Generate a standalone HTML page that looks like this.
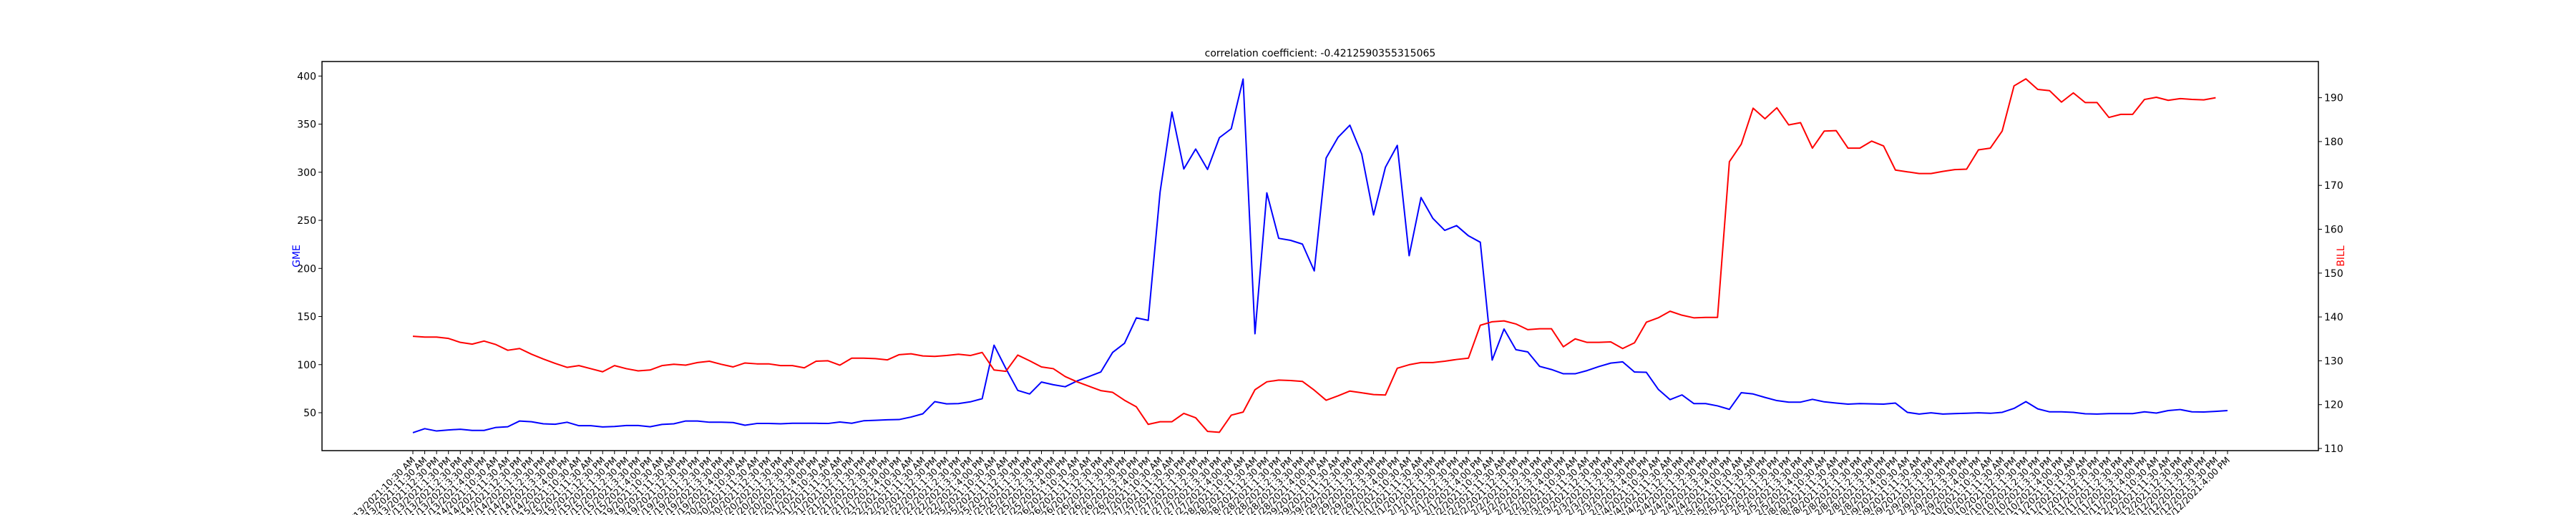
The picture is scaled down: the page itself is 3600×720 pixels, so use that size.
<!DOCTYPE html>
<html><head><meta charset="utf-8"><style>
html,body{margin:0;padding:0;background:#fff;}
svg{display:block;font-family:"DejaVu Sans","Liberation Sans",sans-serif;}
</style></head><body>
<svg id="chart" width="3600" height="720" viewBox="0 0 3600 720" xmlns="http://www.w3.org/2000/svg">
<rect width="3600" height="720" fill="#fff"/>
<text x="1845" y="79" font-size="14" text-anchor="middle" fill="#000">correlation coefficient: -0.4212590355315065</text>
<text x="0" y="0" font-size="14" fill="#0000ff" text-anchor="middle" transform="translate(419,358) rotate(-90)">GME</text>
<text x="0" y="0" font-size="14" fill="#ff0000" text-anchor="middle" transform="translate(3276,358) rotate(-90)">BILL</text>
<g id="series"></g>
<g id="axes"></g>
</svg>
<script>
const days = ["1/13","1/14","1/15","1/19","1/20","1/21","1/22","1/25","1/26","1/27","1/28","1/29","2/1","2/2","2/3","2/4","2/5","2/8","2/9","2/10","2/11","2/12"];
const times = ["10:30 AM","11:30 AM","12:30 PM","1:30 PM","2:30 PM","3:30 PM","4:00 PM"];
const gmeValues = [29.2,33.4,31.0,32.1,32.8,31.6,31.6,34.7,35.4,41.4,40.6,38.5,38.0,40.1,36.5,36.5,35.2,35.7,36.7,36.7,35.4,37.8,38.5,41.4,41.4,40.1,40.1,39.8,37.0,38.8,
38.8,38.5,39.0,39.0,39.0,38.8,40.3,39.0,41.6,42.1,42.7,42.9,45.5,48.9,61.5,59.2,59.5,61.3,64.6,120.2,95.9,73.2,69.5,81.9,79.1,77.0,83.0,87.6,92.3,112.7,
122.2,148.6,146.0,279.4,362.6,303.4,324.1,302.9,335.9,345.2,396.9,132.1,278.6,231.3,229.2,225.3,197.4,314.8,336.2,348.9,318.9,255.6,305.2,327.9,213.2,273.7,252.0,239.6,244.5,233.9,
227.2,104.7,137.0,115.5,113.2,98.2,94.9,90.5,90.5,93.8,98.0,101.6,102.9,92.3,92.0,74.4,63.6,68.5,59.5,59.5,57.1,53.5,70.8,69.5,65.9,62.6,61.0,61.0,63.9,61.3,
60.0,58.9,59.5,59.2,58.9,60.0,50.4,48.6,49.9,48.6,49.1,49.4,49.9,49.4,50.4,54.5,61.5,54.0,50.9,50.9,50.4,48.9,48.6,49.1,49.1,49.1,50.9,49.6,52.2,53.3,
50.9,50.7,51.4,52.2];
const billValues = [135.6,135.4,135.4,135.1,134.2,133.8,134.5,133.7,132.4,132.8,131.5,130.4,129.4,128.5,128.9,128.2,127.5,128.9,128.2,127.7,127.9,128.9,129.2,129.0,129.6,129.9,129.2,128.6,129.5,129.3,
129.3,128.9,128.9,128.4,129.9,130.0,129.0,130.6,130.6,130.5,130.2,131.4,131.6,131.1,131.0,131.2,131.5,131.2,131.9,127.9,127.6,131.3,130.0,128.6,128.2,126.4,125.2,124.2,123.2,
122.8,121.0,119.5,115.5,116.1,116.1,118.0,117.0,113.9,113.7,117.6,118.3,123.4,125.2,125.6,125.5,125.3,123.3,121.0,122.0,123.1,122.7,122.3,122.2,128.3,129.1,129.6,129.6,129.9,130.3,
130.6,138.1,138.9,139.1,138.4,137.1,137.3,137.3,133.2,135.0,134.2,134.2,134.3,132.8,134.1,138.8,139.8,141.3,140.4,139.8,139.9,139.9,175.4,179.4,187.6,185.2,187.7,183.8,184.3,178.5,182.4,
182.5,178.5,178.5,180.1,179.0,173.5,173.1,172.7,172.7,173.2,173.6,173.7,178.1,178.5,182.4,192.7,194.3,191.9,191.6,189.0,191.1,188.9,188.9,185.5,186.2,186.2,189.6,190.1,189.4,189.8,
189.6,189.5,190.0];
const leftTicks = [50,100,150,200,250,300,350,400];
const rightTicks = [110,120,130,140,150,160,170,180,190];

const NS = "http://www.w3.org/2000/svg";
const plotL = 450, plotR = 3240, plotT = 86, plotB = 630;
const x0 = 577, x1 = 3113;
const labels = [];
days.forEach(d => times.forEach(t => labels.push(d + "/2021:" + t)));
const n = gmeValues.length;
function xPos(i){ return x0 + (x1 - x0) * i / (n - 1); }
function yLeft(v){ return 577 - (v - 50) * (577 - 106.3) / 350; }
function yRight(v){ return 627 - (v - 110) * 6.13; }

function mk(tag, attrs, parent){
  const el = document.createElementNS(NS, tag);
  for (const k in attrs) el.setAttribute(k, attrs[k]);
  parent.appendChild(el);
  return el;
}
const series = document.getElementById("series");
const axes = document.getElementById("axes");

function drawLine(vals, yf, color, name){
  let d = "";
  vals.forEach((v, i) => { d += (i ? "L" : "M") + xPos(i).toFixed(2) + "," + yf(v).toFixed(2); });
  const p = mk("path", {d: d, fill: "none", stroke: color, "stroke-width": 2, "stroke-linejoin": "round"}, series);
  
  
}
drawLine(gmeValues, yLeft, "#0000ff", "gme-line");
drawLine(billValues, yRight, "#ff0000", "bill-line");

const frame = mk("rect", {x: plotL, y: plotT, width: plotR - plotL, height: plotB - plotT, fill: "none", stroke: "#000", "stroke-width": 1.5}, axes);



leftTicks.forEach(v => {
  const y = yLeft(v);
  const tk = mk("line", {x1: plotL - 5, x2: plotL, y1: y, y2: y, stroke: "#000", "stroke-width": 1}, axes);
  
  
  const t = mk("text", {x: plotL - 8, y: y + 5, "font-size": 14, "text-anchor": "end", fill: "#000"}, axes);
  t.textContent = v;
  
  
});
rightTicks.forEach(v => {
  const y = yRight(v);
  const tk = mk("line", {x1: plotR, x2: plotR + 5, y1: y, y2: y, stroke: "#000", "stroke-width": 1}, axes);
  
  
  const t = mk("text", {x: plotR + 8, y: y + 5, "font-size": 14, "text-anchor": "start", fill: "#000"}, axes);
  t.textContent = v;
  
  
});
labels.forEach((lab, i) => {
  const x = xPos(i);
  const tk = mk("line", {x1: x, x2: x, y1: plotB, y2: plotB + 5, stroke: "#000", "stroke-width": 1}, axes);
  
  
  const t = mk("text", {x: x + 4, y: plotB + 14, "font-size": 12.5, "text-anchor": "end", fill: "#000", transform: "rotate(-45 " + (x + 4) + " " + (plotB + 14) + ")"}, axes);
  t.textContent = lab;
  
  
});
</script>
</body></html>
